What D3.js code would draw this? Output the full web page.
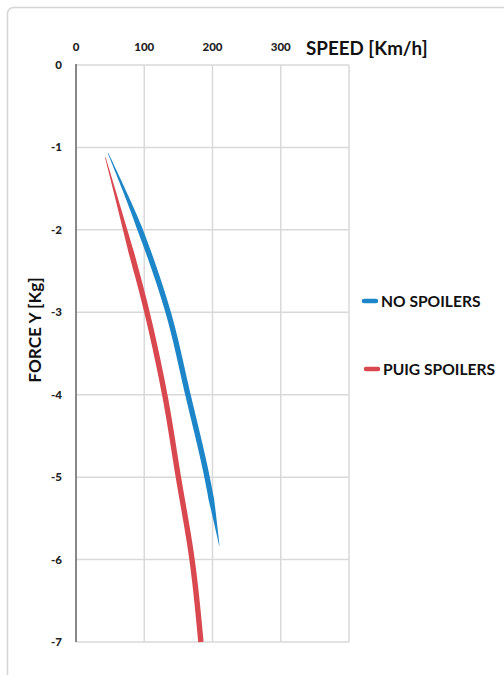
<!DOCTYPE html>
<html>
<head>
<meta charset="utf-8">
<script src="https://cdn.jsdelivr.net/npm/d3@7"></script>
<style>
  html, body { margin: 0; padding: 0; background: #fff; }
  svg { display: block; }
</style>
</head>
<body>
<div id="chart"></div>
<script>
// values (speed km/h, force kg)
var noSpoilers = [[47, -1.07], [94, -2], [135, -3], [164, -4], [192, -5], [210, -5.83]];
var puigSpoilers = [[43, -1.12], [72, -2], [104, -3], [130, -4], [150, -5], [170, -6], [183, -7]];
var xTicks = [0, 100, 200, 300];
var xGrid = [0, 100, 200, 300, 400];
var yTicks = [0, -1, -2, -3, -4, -5, -6, -7];
var seriesNames = ["NO SPOILERS", "PUIG SPOILERS"];
var BLUE = "#1c86c9", RED = "#d9474f", GRID = "#d9d9d9", AXIS = "#888", FONT = "Lato, 'Open Sans', sans-serif";

var W = 504, H = 675;
var svg = d3.select("#chart").append("svg").attr("width", W).attr("height", H);

// outer frame, runs off the right and bottom of the page
svg.append("rect").attr("x", 7.5).attr("y", 7.5).attr("width", 520).attr("height", 700)
  .attr("rx", 6).attr("fill", "#fff").attr("stroke", "#d4d4d4").attr("stroke-width", 1.5);

var x = d3.scaleLinear().domain([0, 400]).range([76, 349]);
var y = d3.scaleLinear().domain([0, -7]).range([65, 642]);

// grid
xGrid.forEach(function (t) {
  svg.append("line").attr("x1", x(t)).attr("x2", x(t)).attr("y1", y(0)).attr("y2", y(-7))
    .attr("stroke", GRID).attr("stroke-width", 1.5);
});
yTicks.forEach(function (t) {
  svg.append("line").attr("x1", x(0)).attr("x2", x(400)).attr("y1", y(t)).attr("y2", y(t))
    .attr("stroke", GRID).attr("stroke-width", 1.5);
});
svg.append("line").attr("x1", x(0)).attr("x2", x(0)).attr("y1", y(0) - 1).attr("y2", y(-7))
  .attr("stroke", AXIS).attr("stroke-width", 2);

// tick labels
xTicks.forEach(function (t) {
  svg.append("text").attr("x", x(t)).attr("y", 51).attr("text-anchor", "middle")
    .attr("font-family", FONT).attr("font-weight", "900").attr("font-size", 11.5).attr("fill", "#222").text(t);
});
yTicks.forEach(function (t) {
  svg.append("text").attr("x", 62).attr("y", y(t) + 4).attr("text-anchor", "end")
    .attr("font-family", FONT).attr("font-weight", "900").attr("font-size", 11.5).attr("fill", "#222")
    .text(t === 0 ? "0" : "-" + Math.abs(t));
});

svg.append("text").attr("x", 306).attr("y", 55).attr("font-family", FONT).attr("font-weight", "bold")
  .attr("font-size", 18.8).attr("fill", "#111").text("SPEED [Km/h]");
svg.append("text").attr("transform", "translate(41,330) rotate(-90)").attr("text-anchor", "middle")
  .attr("font-family", FONT).attr("font-weight", "bold").attr("font-size", 17.2).attr("fill", "#111").text("FORCE Y [Kg]");

// tapered stroke: sample the smoothed line and offset by a varying half width
var line = d3.line().x(function (d) { return x(d[0]); }).y(function (d) { return y(d[1]); }).curve(d3.curveMonotoneY);
function taper(data, color, tailTaper) {
  var tmp = svg.append("path").attr("d", line(data)).attr("fill", "none");
  var node = tmp.node(), len = node.getTotalLength(), n = 120, left = [], right = [];
  for (var i = 0; i <= n; i++) {
    var s = len * i / n, p = node.getPointAtLength(s);
    var q = node.getPointAtLength(Math.min(len, s + 0.5)), r = node.getPointAtLength(Math.max(0, s - 0.5));
    var dx = q.x - r.x, dy = q.y - r.y, dl = Math.sqrt(dx * dx + dy * dy) || 1;
    var f = i / n, w = 2.7;
    if (f < 0.2) w = 0.3 + 2.4 * (f / 0.2);
    if (tailTaper && f > 0.88) w = 2.7 * (1 - f) / 0.12 + 0.2;
    left.push([p.x - dy / dl * w, p.y + dx / dl * w]);
    right.push([p.x + dy / dl * w, p.y - dx / dl * w]);
  }
  tmp.remove();
  svg.append("path").attr("d", "M" + left.concat(right.reverse()).join("L") + "Z").attr("fill", color);
}
taper(noSpoilers, BLUE, true);
taper(puigSpoilers, RED, false);

// legend
[[BLUE, 301, 364], [RED, 369, 366]].forEach(function (l, i) {
  svg.append("line").attr("x1", l[2]).attr("x2", l[2] + 12).attr("y1", l[1]).attr("y2", l[1])
    .attr("stroke", l[0]).attr("stroke-width", 4.5).attr("stroke-linecap", "round");
  svg.append("text").attr("x", l[2] + 17).attr("y", l[1] + 5.5).attr("font-family", FONT)
    .attr("font-weight", "bold").attr("font-size", 15.6).attr("fill", "#111").text(seriesNames[i]);
});
</script>
</body>
</html>
